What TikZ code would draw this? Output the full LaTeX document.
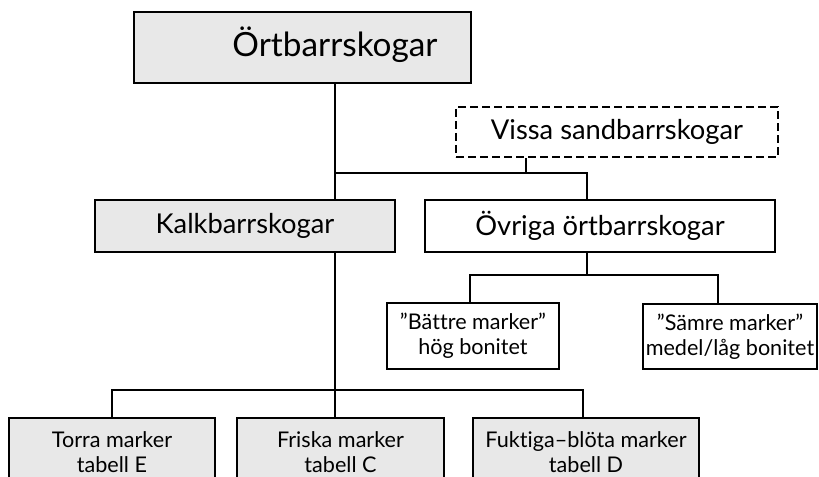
\documentclass[tikz,border=0pt]{standalone}
\usepackage{fontspec}
\setmainfont[Ligatures=NoCommon]{Lato}
\definecolor{boxgray}{HTML}{E8E8E8}
\tikzset{
  box/.style={draw=black, line width=1.4pt, rectangle, inner sep=0pt, align=center, font=\fontsize{16.2}{18.5}\selectfont},
  midfont/.style={font=\fontsize{20.5}{24}\selectfont},
  grayfill/.style={fill=boxgray},
  dashbox/.style={dash pattern=on 6pt off 3pt, line width=1.7pt},
  conn/.style={draw=black, line width=1.1pt},
}
\begin{document}
\begin{tikzpicture}[x=0.75pt, y=-0.75pt]
\useasboundingbox (0,0) rectangle (819,477);
\clip (0,0) rectangle (819,477);
% nodes
\node[box, grayfill, minimum width=337*0.75pt, minimum height=71*0.75pt] (top) at (302.5,47.5) {};
\node[anchor=base, inner sep=0pt, font=\fontsize{25}{30}\selectfont] (toptext) at (335,57) {Örtbarrskogar};
\node[box, dashbox, midfont, minimum width=322*0.75pt, minimum height=50*0.75pt] (vissa) at (617,132) {Vissa sandbarrskogar};
\node[box, grayfill, midfont, minimum width=300*0.75pt, minimum height=52*0.75pt] (kalk) at (245,226) {Kalkbarrskogar};
\node[box, midfont, minimum width=350*0.75pt, minimum height=52*0.75pt] (ovriga) at (600,226) {Övriga örtbarrskogar};
\node[box, minimum width=172*0.75pt, minimum height=66*0.75pt] (battre) at (473,336) {”Bättre marker”\\hög bonitet};
\node[box, minimum width=174*0.75pt, minimum height=65*0.75pt] (samre) at (730,336.5) {”Sämre marker”\\medel/låg bonitet};
\node[box, grayfill, minimum width=206*0.75pt, minimum height=68*0.75pt] (torra) at (112,452) {Torra marker\\tabell E};
\node[box, grayfill, minimum width=207*0.75pt, minimum height=68*0.75pt] (friska) at (340.5,452) {Friska marker\\tabell C};
\node[box, grayfill, minimum width=226*0.75pt, minimum height=68*0.75pt] (fuktiga) at (586,452) {Fuktiga–blöta marker\\tabell D};
% junction coordinates
\coordinate (j1) at (335,173);
\coordinate (j1v) at (526,173);
\coordinate (j1r) at (587,173);
\coordinate (j2) at (587,275);
\coordinate (j2l) at (470,275);
\coordinate (j2r) at (718,275);
\coordinate (j3) at (335,390);
\coordinate (j3l) at (112,390);
\coordinate (j3r) at (583,390);
% connectors
\draw[conn] (top.south -| j1) -- (kalk.north -| j1);
\draw[conn] (vissa.south -| j1v) -- (j1v);
\draw[conn] (j1) -- (j1r) -- (ovriga.north -| j1r);
\draw[conn] (ovriga.south -| j2) -- (j2);
\draw[conn] (battre.north -| j2l) -- (j2l) -- (j2r) -- (samre.north -| j2r);
\draw[conn] (kalk.south -| j3) -- (friska.north -| j3);
\draw[conn] (torra.north -| j3l) -- (j3l) -- (j3r) -- (fuktiga.north -| j3r);
\end{tikzpicture}
\end{document}
